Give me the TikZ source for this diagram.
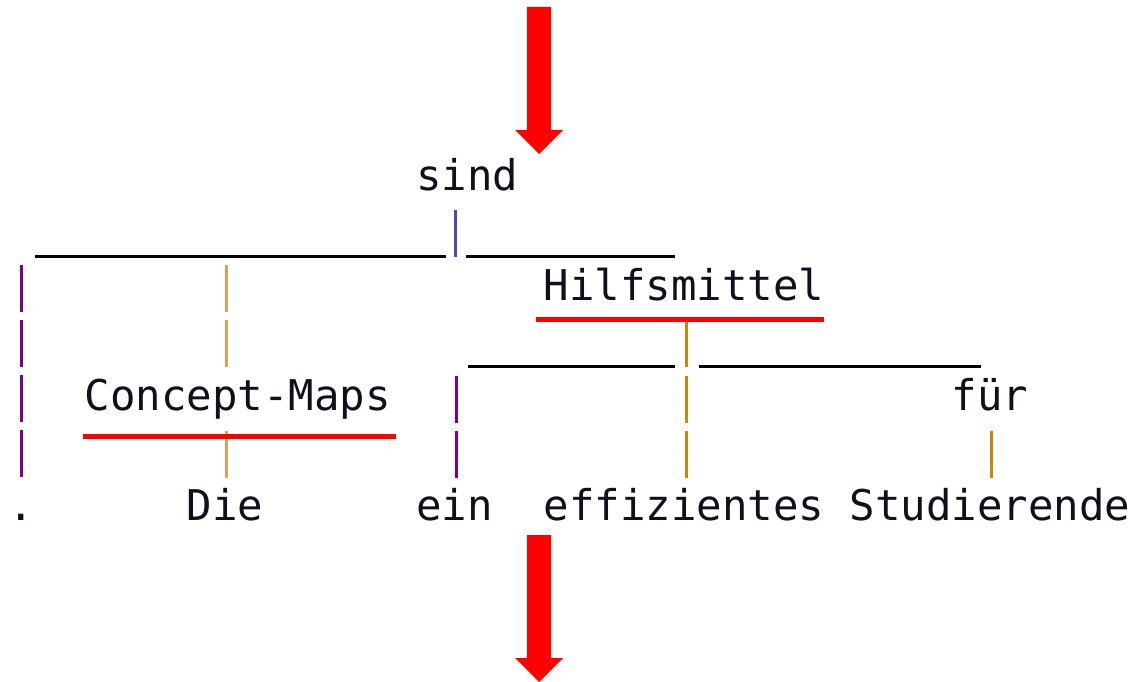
\documentclass[tikz,border=0pt]{standalone}
\usepackage{fontspec}
\newfontfamily\treefont{DejaVu Sans Mono}
\definecolor{barpurple}{HTML}{800080}
\definecolor{barorange}{HTML}{C8860A}
\definecolor{bartan}{HTML}{D9A25E}
\definecolor{barslate}{HTML}{4B4BA8}
\definecolor{wordink}{HTML}{10101C}
\begin{document}
\begin{tikzpicture}[x=1pt,y=-1pt,
  word/.style={anchor=base west, inner sep=0pt, font=\treefont\fontsize{42.36}{50}\selectfont, text=wordink},
  bar/.style={line width=3pt, dash pattern=on 47pt off 8pt},
  rule/.style={line width=3pt, black},
  redline/.style={line width=5pt, red},
  redarrow/.style={fill=red, draw=none}]
\useasboundingbox (0,0) rectangle (1138,682);

% words
\node[word] (sind) at (416.25,190) {sind};
\node[word] (hilfs) at (543.75,300) {Hilfsmittel};
\node[word] (cmaps) at (84.75,410) {Concept-Maps};
\node[word] (fuer) at (951.75,410) {für};
\node[word] (dot) at (8.25,520) {.};
\node[word] (die) at (186.75,520) {Die};
\node[word] (ein) at (416.25,520) {ein};
\node[word] (eff) at (543.75,520) {effizientes};
\node[word] (stud) at (849.75,520) {Studierende};

% connector points
\coordinate (sindBarTop) at (455,210);
\coordinate (sindBarBot) at (455,257);
\coordinate (topRuleL1) at (35,256);
\coordinate (topRuleL2) at (446,256);
\coordinate (topRuleR1) at (466,256);
\coordinate (topRuleR2) at (675,256);
\coordinate (dotBarTop) at (21,265);
\coordinate (dotBarBot) at (21,479);
\coordinate (cmBarTop) at (226,265);
\coordinate (cmBarBot) at (226,367);
\coordinate (dieBarTop) at (226,431);
\coordinate (dieBarBot) at (226,479);
\coordinate (hilfsBarTop) at (686,320);
\coordinate (hilfsBarBot) at (686,367);
\coordinate (midRuleL1) at (468,366);
\coordinate (midRuleL2) at (675,366);
\coordinate (midRuleR1) at (699,366);
\coordinate (midRuleR2) at (981,366);
\coordinate (einBarTop) at (456,376);
\coordinate (einBarBot) at (456,479);
\coordinate (effBarTop) at (686,376);
\coordinate (effBarBot) at (686,479);
\coordinate (fuerBarTop) at (991,431);
\coordinate (fuerBarBot) at (991,479);

% connectors
\draw[bar, barslate] (sindBarTop) -- (sindBarBot);
\draw[rule] (topRuleL1) -- (topRuleL2);
\draw[rule] (topRuleR1) -- (topRuleR2);
\draw[bar, barpurple] (dotBarTop) -- (dotBarBot);
\draw[bar, bartan] (cmBarTop) -- (cmBarBot);
\draw[bar, bartan] (dieBarTop) -- (dieBarBot);
\draw[bar, barorange] (hilfsBarTop) -- (hilfsBarBot);
\draw[rule] (midRuleL1) -- (midRuleL2);
\draw[rule] (midRuleR1) -- (midRuleR2);
\draw[bar, barpurple] (einBarTop) -- (einBarBot);
\draw[bar, barorange] (effBarTop) -- (effBarBot);
\draw[bar, barorange] (fuerBarTop) -- (fuerBarBot);

% red underlines
\draw[redline] (536,319) -- (824,319);
\draw[redline] (83,436) -- (396,436);

% red arrows
\fill[redarrow] (527,7) -- (551,7) -- (551,130) -- (563,130) -- (539,154) -- (515,130) -- (527,130) -- cycle;
\fill[redarrow] (527,535) -- (551,535) -- (551,658) -- (563,658) -- (539,682) -- (515,658) -- (527,658) -- cycle;
\end{tikzpicture}
\end{document}
